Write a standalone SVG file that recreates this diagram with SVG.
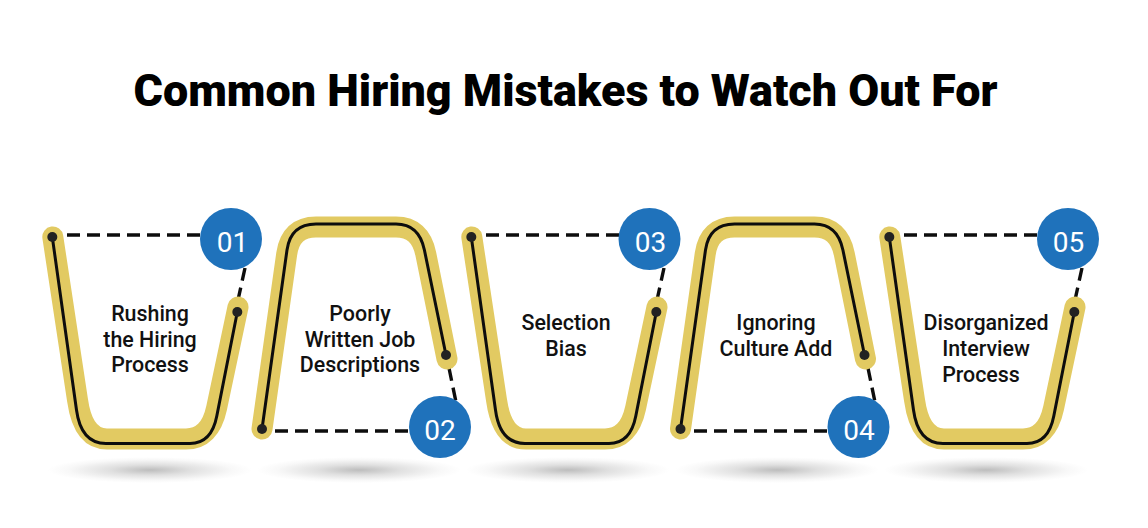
<svg xmlns="http://www.w3.org/2000/svg" width="1148" height="528" viewBox="0 0 1148 528">
<style>
.y{fill:none;stroke:#e2ca62;stroke-width:21;stroke-linecap:round;stroke-linejoin:round}
.k{fill:none;stroke:#0d0d0d;stroke-width:3}
.d{fill:none;stroke:#0d0d0d;stroke-width:3.4;stroke-dasharray:13 7}
.dot{fill:#222}
.c{fill:#1f72bb}
.n{font:400 28px Roboto,sans-serif;fill:#fff;text-anchor:middle}
.l{font:500 21.4px Roboto,sans-serif;fill:#111;text-anchor:middle}
.t{font:900 44.9px Roboto,sans-serif;fill:#000;text-anchor:middle}
.s{fill:url(#sh)}
</style>
<defs>
<radialGradient id="sh"><stop offset="0" stop-color="#bdbdbd"/><stop offset=".4" stop-color="#e0e0e0"/><stop offset=".8" stop-color="#f8f8f8"/><stop offset="1" stop-color="#fff"/></radialGradient>
<g id="cup">
<path class="y" d="M52.800 237 L77.500 400 Q83 439 107 439 H186 Q209.900 439 216.600 408 L238 307"/>
<path class="k" d="M52.300 237 L76.500 410 Q81 443.500 106 443.500 H190 Q211.500 443.500 216.800 416 L237.300 312"/>
<circle class="dot" cx="52.300" cy="237" r="5"/><circle class="dot" cx="237.300" cy="312" r="5"/>
</g>
<g id="cap">
<path class="y" d="M262 429 L286.700 254 Q290.500 227 316 227 H396 Q420.400 227 425.800 254 L447 359"/>
<path class="k" d="M262 429 L287 250 Q290.700 224 316 224 H396 Q419 224 424.400 250 L446 355"/>
<circle class="dot" cx="262" cy="429" r="5"/><circle class="dot" cx="446" cy="355" r="5"/>
</g>
</defs>
<text class="t" x="565.500" y="106">Common Hiring Mistakes to Watch Out For</text>
<g id="shadows">
<ellipse class="s" cx="150" cy="470" rx="102" ry="13"/>
<ellipse class="s" cx="359" cy="470" rx="102" ry="13"/>
<ellipse class="s" cx="568" cy="470" rx="102" ry="13"/>
<ellipse class="s" cx="777" cy="470" rx="102" ry="13"/>
<ellipse class="s" cx="986" cy="470" rx="102" ry="13"/>
</g>
<g id="connectors">
<path class="d" d="M67 235H205M245 268L238 300"/>
<path class="d" d="M449 368L456 402M275 431H414"/>
<path class="d" d="M486 235H624M664 268L657 300"/>
<path class="d" d="M868 368L875 402M694 431H833"/>
<path class="d" d="M904 235H1042M1082 268L1075 300"/>
</g>
<g id="node1"><use href="#cup"/><circle class="c" cx="231" cy="239" r="31"/><text class="n" x="232.500" y="252">01</text>
<text class="l"><tspan x="150" y="321">Rushing</tspan><tspan x="150" y="346.500">the Hiring</tspan><tspan x="150" y="372">Process</tspan></text></g>
<g id="node2"><use href="#cap"/><circle class="c" cx="440" cy="427" r="31"/><text class="n" x="440" y="440">02</text>
<text class="l"><tspan x="360" y="321">Poorly</tspan><tspan x="360" y="346.500">Written Job</tspan><tspan x="360" y="372">Descriptions</tspan></text></g>
<g id="node3"><use href="#cup" x="419"/><circle class="c" cx="649.500" cy="239" r="31"/><text class="n" x="650.500" y="252">03</text>
<text class="l"><tspan x="566" y="330">Selection</tspan><tspan x="566" y="356">Bias</tspan></text></g>
<g id="node4"><use href="#cap" x="418.500"/><circle class="c" cx="858.500" cy="427" r="31"/><text class="n" x="859" y="440">04</text>
<text class="l"><tspan x="776" y="330">Ignoring</tspan><tspan x="776" y="356">Culture Add</tspan></text></g>
<g id="node5"><use href="#cup" x="837"/><circle class="c" cx="1068" cy="239" r="31"/><text class="n" x="1068.500" y="252">05</text>
<text class="l"><tspan x="986" y="330">Disorganized</tspan><tspan x="986" y="356">Interview</tspan><tspan x="981" y="381.500">Process</tspan></text></g>
</svg>
